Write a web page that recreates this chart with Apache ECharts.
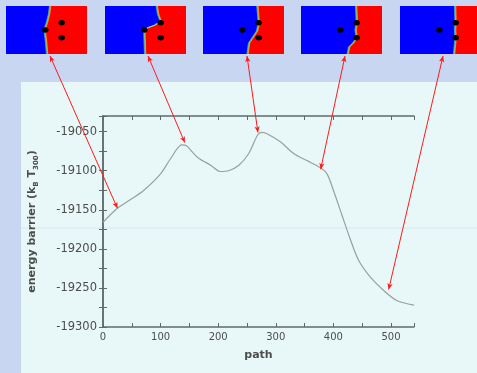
<!DOCTYPE html>
<html>
<head>
<meta charset="utf-8">
<script src="https://cdn.jsdelivr.net/npm/echarts@6/dist/echarts.min.js"></script>
<style>
html, body { margin: 0; padding: 0; background: #c9d6f2; }
#chart { width: 477px; height: 373px; }
</style>
</head>
<body>
<div id="chart"></div>
<script>
// energy along the path
const pathX = [0, 25, 48, 71, 100, 117, 137, 145, 155, 166, 187, 204, 218, 236, 253, 268, 275, 283, 308, 331, 354, 377, 389, 400, 415, 429, 444, 464, 487, 510, 540]
const energy = [-19166, -19148, -19137, -19125, -19104, -19085, -19067, -19068, -19076, -19084, -19093, -19101, -19100, -19093, -19078, -19055, -19051, -19052, -19063, -19078, -19087, -19096, -19104, -19125, -19157, -19187, -19215, -19236, -19253, -19266, -19272]

// where each snapshot arrow points on the curve
const snapPath = [25, 142, 269, 378, 496]
const snapEnergy = [-19148, -19064, -19051, -19098, -19252]

// axes: ticks every 50 / 25, labels every 100 / 50
const xMin = 0, xMax = 540, xTick = 50, xLabelStep = 100
const yMin = -19300, yMax = -19030, yTick = 25, yLabelStep = 50

const FONT = 'DejaVu Sans'

// snapshot thumbnails: left edge and interface curve (local coords in an 81x48 box)
const thumbs = [
    { x: 6, iface: [[44, 0], [43, 8], [41, 16], [39, 22], [39, 28], [40, 36], [41, 48]] },
    { x: 105, iface: [[51.7, 0], [53, 8], [55.5, 15], [50, 19], [42, 22], [39.3, 25], [39.5, 32], [40, 48]] },
    { x: 203, iface: [[54.3, 0], [55, 8], [55.7, 17], [54, 25], [50, 31], [46, 37], [44.5, 48]] },
    { x: 301, iface: [[55, 0], [55.5, 10], [55.7, 17], [54.5, 24], [55.7, 32], [52, 37], [48, 41], [46.7, 48]] },
    { x: 400, iface: [[55, 0], [55.5, 16.7], [55, 24], [55.5, 32], [54, 48]] }
]
const dots = [[39.3, 24], [55.7, 16.7], [55.7, 31.7]]

const buildThumb = (t) => {
    const W = 81, H = 48, top = 6
    const shift = (pts, dx) => pts.map(p => [t.x + p[0] + dx, top + p[1]])
    const out = [
        { type: 'rect', z: -5, silent: true, shape: { x: t.x, y: top, width: W, height: H }, style: { fill: '#ff0000' } },
        { type: 'polygon', z: -4, silent: true, shape: { points: [[t.x, top], ...shift(t.iface, -0.8), [t.x, top + H]] }, style: { fill: '#0000ff' } },
        { type: 'polyline', z: -3, silent: true, shape: { points: shift(t.iface, -0.6) }, style: { stroke: '#00b4ff', lineWidth: 0.8, fill: null } },
        { type: 'polyline', z: -3, silent: true, shape: { points: shift(t.iface, 0.1) }, style: { stroke: '#40f090', lineWidth: 0.8, fill: null } },
        { type: 'polyline', z: -3, silent: true, shape: { points: shift(t.iface, 0.8) }, style: { stroke: '#f0e020', lineWidth: 0.6, fill: null } }
    ]
    dots.forEach(d => out.push({
        type: 'ellipse', z: -2, silent: true,
        shape: { cx: t.x + d[0], cy: top + d[1], rx: 3.4, ry: 2.8 },
        style: { fill: '#000000' }
    }))
    return out
}

const arrowStartX = [50, 148, 247, 345, 443]

const chart = echarts.init(document.getElementById('chart'))

const axisBase = {
    type: 'value',
    axisLine: { show: true, lineStyle: { color: '#5f6b6b', width: 1.5 } },
    axisTick: { show: true, inside: true, length: 4, lineStyle: { color: '#5f6b6b', width: 1 } },
    splitLine: { show: false }
}

const option = {
    backgroundColor: '#c9d6f2',
    animation: false,
    graphic: [
        { type: 'rect', z: -10, silent: true, shape: { x: 21, y: 82, width: 470, height: 300 }, style: { fill: '#e8f8f8' } },
        { type: 'line', z: -9, silent: true, shape: { x1: 21, y1: 228, x2: 477, y2: 228 }, style: { stroke: '#d2eaef', lineWidth: 1 } },
        ...thumbs.flatMap(buildThumb)
    ],
    grid: { left: 103, top: 116, right: 63, bottom: 46 },
    xAxis: [
        {
            ...axisBase,
            min: xMin, max: xMax, interval: xTick,
            name: 'path',
            nameLocation: 'middle',
            nameGap: 23,
            nameTextStyle: { fontFamily: FONT, fontSize: 11, fontWeight: 'bold', color: '#4d4d4d' },
            axisLabel: {
                fontFamily: FONT, fontSize: 10, color: '#4d4d4d', margin: 5,
                formatter: v => (v % xLabelStep === 0 ? String(v) : '')
            }
        },
        {
            ...axisBase,
            position: 'top',
            min: xMin, max: xMax, interval: xTick,
            axisLabel: { show: false }
        }
    ],
    yAxis: [
        {
            ...axisBase,
            min: yMin, max: yMax, interval: yTick,
            name: '{n|energy barrier (k}{s|B}{n| T}{s|300}{n|)}',
            nameLocation: 'middle',
            nameGap: 63,
            nameRotate: 90,
            nameTextStyle: {
                rich: {
                    n: { fontFamily: FONT, fontSize: 11, fontWeight: 'bold', color: '#4d4d4d', lineHeight: 16 },
                    s: { fontFamily: FONT, fontSize: 7, fontWeight: 'bold', color: '#4d4d4d', lineHeight: 7, verticalAlign: 'bottom' }
                }
            },
            axisLabel: {
                fontFamily: FONT, fontSize: 11.5, color: '#4d4d4d', margin: 6,
                formatter: v => (v % yLabelStep === 0 ? String(v) : '')
            }
        },
        {
            ...axisBase,
            position: 'right',
            min: yMin, max: yMax, interval: yTick,
            axisLabel: { show: false }
        }
    ],
    series: [
        {
            type: 'line',
            xAxisIndex: 0,
            yAxisIndex: 0,
            data: pathX.map((x, i) => [x, energy[i]]),
            smooth: 0.3,
            showSymbol: false,
            clip: false,
            lineStyle: { color: '#9a9f9f', width: 1.2 },
            markLine: {
                silent: true,
                symbol: ['arrow', 'arrow'],
                symbolSize: [4, 6],
                label: { show: false },
                lineStyle: { color: '#ff1a1a', width: 1, type: 'solid' },
                data: snapPath.map((p, i) => [
                    { x: arrowStartX[i], y: 56 },
                    { coord: [p, snapEnergy[i]] }
                ])
            }
        }
    ]
}

chart.setOption(option)
</script>
</body>
</html>
